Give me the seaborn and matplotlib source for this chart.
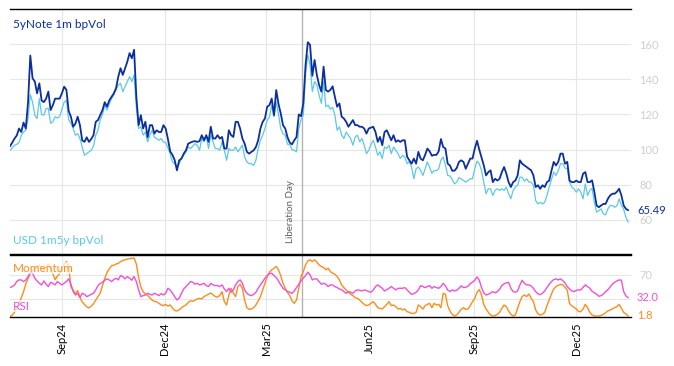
import pandas as pd
import numpy as np
import seaborn as sns
import matplotlib
matplotlib.use('Agg')
import matplotlib.pyplot as plt
import matplotlib.dates as mdates
import matplotlib.transforms as mtrans

# readings every 2 days, 2024-07-17 .. 2026-01-16
start_date = '2024-07-17'
step = '2D'

note_vol = [
    101.9, 104, 106.3, 108, 112, 110, 115.4, 112, 127, 153.5,
    140.6, 138.7, 132, 137.7, 128, 127, 129, 133, 122.5, 125.3,
    129, 129, 129, 132, 135.8, 134, 122, 118.7, 113, 114.8,
    118.7, 113.9, 105.3, 104.4, 107, 104.4, 106, 108.2, 115.8, 116.8,
    119.6, 122.5, 127, 124.4, 128, 130, 132, 134.9, 141.5, 146.3,
    142.5, 146.3, 150, 154.9, 152, 156.8, 130, 113.9, 119.6, 112,
    115.8, 107, 113.9, 113.9, 109.1, 111, 110, 110, 113.9, 112,
    106, 99, 97, 94, 88.2, 93.9, 94.9, 97.7, 99.6, 103.4,
    104, 104.6, 104.8, 104.4, 104.8, 108.2, 105.3, 108.2, 104.4, 113, 106.3, 106.3,
    108.2, 106.3, 107.2, 100.6, 100.6, 111, 108.2, 107.2, 115.8, 115.8,
    112, 106.3, 103.4, 98.7, 97.7, 98.7, 99.6, 101.5, 105.3, 112,
    115.8, 117.7, 124.4, 125.3, 129, 119.6, 133.9, 126, 120.6, 113.9,
    112, 107, 104, 103, 105.3, 107.2, 120, 119, 126.3, 148,
    161.1, 159.6, 142, 151, 142.5, 136.8, 133, 147.2, 133.9, 133,
    134, 136, 130, 124.4, 126.3, 118.7, 117.7, 115.8, 113, 114.9,
    116.8, 113.9, 113.9, 113, 113, 112, 109.1, 112, 112.5, 113,
    110, 104.4, 107.2, 102.5, 110, 111, 108.2, 105.3, 108.2, 104.4,
    105.3, 104.4, 105.3, 105.3, 96, 93.9, 92, 94.9, 92, 98.7, 94.9, 93.9,
    97, 100.6, 99, 96.5, 97, 97, 99, 106, 101.5, 100.6,
    92, 91, 88, 88, 89.5, 93, 93.9, 93, 89.1, 92,
    94.9, 94.9, 100.6, 105, 100, 95.5, 91, 85.3, 87.2, 88.2,
    81.5, 83.4, 82.4, 83.4, 87.2, 90.1, 86.3, 81.5, 78.7, 81.5,
    82.4, 85.3, 93.9, 92, 91, 90.1, 89.1, 88.2, 85.3, 78.7,
    79.7, 77.7, 79.7, 78.7, 81.5, 82.4, 88, 93, 91, 93,
    97.7, 97.7, 92, 93, 82.4, 81.5, 81.5, 82.4, 81.5, 81.5,
    86.3, 87.2, 81.5, 81.5, 82.5, 76, 68.2, 67.2, 68.2, 69.1,
    69.1, 72, 73.9, 74.9, 74.9, 76, 77.7, 73.9, 68.2, 66.3, 65.49,
]

usd_vol = [
    99.6, 101, 102.5, 103, 104, 108, 110, 111, 117.7, 131.4,
    127, 119.6, 117.7, 129, 120, 119.6, 123.4, 123.4, 115, 115.8,
    118.7, 118, 118.7, 123, 127, 128, 117, 115, 112, 108.2,
    109, 106.3, 101.5, 96.8, 97.7, 98.7, 99.6, 102, 108.2, 111,
    117, 120, 125.3, 122.5, 126, 129, 131, 134, 136.8, 137.7,
    133, 135.8, 138.7, 141.5, 138.7, 142.5, 124, 112, 113, 108.2,
    110, 104.4, 108.2, 111, 107, 106.3, 105.3, 106.3, 104.4, 104,
    101, 97.5, 93, 92, 90.1, 92, 94.9, 96.8, 98.7, 101.5,
    100.6, 102, 103.4, 102.5, 99.6, 106.3, 104.4, 108.2, 100.6, 108.2, 104.4, 100.6,
    100.6, 99.6, 104.4, 99.6, 94, 100.6, 99.6, 99.6, 101.5, 98.7,
    100.6, 102.5, 95.8, 93, 92, 92, 91, 94, 100.6, 105.3,
    108.2, 112, 116.8, 118.7, 125.3, 118.7, 127, 120, 112, 109,
    108.2, 103, 103, 100, 99.6, 98.7, 112, 117, 119.6, 143,
    153.9, 148.2, 133, 138.7, 136.8, 131, 126.3, 138.7, 124.4, 125.3,
    123, 124, 119.6, 111, 113, 108.2, 106.3, 110, 108.2, 106.3,
    102.5, 107.2, 108.2, 104.4, 106.3, 102.5, 97.7, 99.6, 103, 105.3,
    101.5, 96.8, 98.7, 94.9, 101.5, 100.6, 102.5, 97.7, 101.5, 99.6,
    97.7, 94.9, 96.8, 95.8, 92, 93, 90.1, 83.4, 89.1, 90.1, 88.2, 85.3,
    89, 93, 90, 86.5, 88, 88, 89, 94, 95.8, 91,
    85.3, 85, 83, 80.5, 81.5, 84, 83.4, 82.4, 81.5, 82.4,
    83.4, 83.4, 89.1, 93.5, 92, 88, 81.5, 74.9, 77.7, 77.7,
    73.9, 76.8, 77.7, 76.8, 77.7, 76.8, 78.7, 74.9, 72, 76.8,
    78.7, 79.7, 84.3, 84.3, 82, 83.4, 81.5, 81.5, 79.7, 71,
    69.1, 70, 69.1, 70, 73.9, 78.7, 83, 87.2, 85.3, 88,
    92, 92, 89.5, 89.1, 81.5, 78.7, 77.7, 75.8, 77.7, 75.8,
    72, 80.5, 73.9, 76.8, 78, 70, 64.4, 65.3, 66.3, 63.4,
    62.9, 66.3, 68.2, 68.2, 67.2, 68, 72, 68.2, 66, 61.5, 58.7,
]

momentum = [
    1, 3, 8, 14, 22, 32, 42, 55, 64, 72,
    76, 80, 84, 86, 82, 78, 84, 88, 82, 72,
    62, 68, 72, 80, 88, 92, 85, 50, 45, 38,
    44, 33, 25, 21, 17, 15, 18, 22, 28, 34,
    40, 52, 64, 74, 80, 85, 86, 88, 89, 92,
    94, 95, 96, 97, 97.5, 98, 88, 66, 50, 42,
    38, 36, 32, 28, 26, 25, 23, 20, 19, 21,
    18, 20, 15, 11, 10, 12, 15, 18, 20, 24,
    27, 26, 28, 30, 31, 30, 34, 36, 38, 40, 37, 34,
    33, 36, 42, 25.5, 20, 36.6, 47.7, 39.4, 33.9, 50.5,
    54.4, 47.7, 28.3, 15.5, 12.7, 13.3, 15.5, 20, 26.6, 33.9,
    45, 56, 67.2, 74.4, 78.3, 81.1, 83.9, 78.3, 68.9, 56,
    47.7, 41, 35.5, 26.6, 22.7, 28.3, 47.7, 67.2, 75.5, 86.6,
    93.3, 95, 92.2, 95, 91, 86.6, 83.9, 82.2, 78.3, 81.1,
    75.5, 72.7, 71.1, 67.2, 61.6, 53.3, 48.9, 45, 41, 37.7,
    35.5, 32.2, 31.1, 28.3, 24.4, 21.1, 18.9, 20, 22.7, 25.5,
    21.1, 15.5, 14.4, 13.3, 17.2, 21.1, 25.5, 18.9, 20, 17.2,
    13.3, 14.4, 11.6, 13.3, 8.9, 7.7, 6, 6, 7.7, 20, 17.2, 13.3,
    18.8, 21, 22.7, 15.5, 22.7, 20, 21, 15.5, 39.4, 37.7,
    18.8, 10, 4.4, 1.6, 3.3, 7.7, 12.7, 15.5, 12.7, 13.3,
    18.8, 25.5, 31.1, 41, 45.5, 36.6, 21, 13.3, 7.7, 3.3,
    1.6, 2.2, 4.4, 7.7, 14.4, 20, 17.2, 10, 4.4, 1.6,
    3.3, 14.4, 25.5, 33.9, 36.6, 33.9, 38.3, 31.1, 25.5, 11.6,
    5.5, 3.3, 4.4, 7.7, 18.8, 28.3, 38.3, 46.6, 50.5, 52.7,
    54.4, 53.3, 49.4, 44.4, 22.7, 18.3, 16.1, 13.3, 8.9, 8.9,
    13.3, 21, 15.5, 7.7, 3.3, 1.6, 1.6, 1.6, 2.7, 4.4,
    7.2, 10, 11.6, 13.3, 15.5, 17.2, 21, 14.4, 7.7, 5, 1.8,
]

rsi = [
    48.9, 50.5, 53.3, 58.9, 61.6, 61.6, 58.9, 61.6, 67.2, 74.4,
    72.7, 64.4, 60, 56, 53.3, 60, 54.4, 50.5, 57.7, 56,
    53.3, 58.9, 56, 53.3, 56, 58.9, 63.3, 54.4, 42.2, 36.6,
    39.4, 32.2, 39.4, 37.7, 33.9, 35.5, 37.7, 39.4, 45, 52.2,
    55.5, 57.7, 61.1, 63.3, 61.6, 58.9, 62.2, 64.4, 61.6, 68.9,
    67.2, 63.3, 67.2, 64.4, 61.1, 67.2, 58.9, 45, 33.9, 35.5,
    36.6, 39.4, 37.7, 36.6, 39.4, 37.7, 35.5, 38.8, 36.6, 39.4,
    47.7, 45, 39.4, 33.9, 28.3, 31.1, 39.4, 46.6, 50.5, 54.4,
    58.9, 57.7, 54.4, 56, 53.3, 54.4, 56, 52.2, 50.5, 56, 53.3, 52.2,
    52.2, 50.5, 53.3, 46.6, 42.2, 47.7, 41.1, 45, 53.3, 58.9,
    61.6, 56, 45, 39.4, 36.6, 35.5, 37.7, 41.1, 47.7, 53.3,
    58.9, 64.4, 68.9, 72.2, 72.7, 68.9, 65.5, 60, 53.3, 47.7,
    45, 42.2, 41.1, 39.4, 43.3, 48.9, 54.4, 60, 64.4, 68.9,
    74.4, 70, 61.6, 63.3, 63.3, 58.9, 54.4, 56, 54.4, 50.5,
    53.3, 53.3, 50.5, 48.9, 46.6, 45, 42.2, 39.4, 42.2, 41.1,
    39.4, 43.3, 45, 44.4, 43.3, 45, 43.9, 42.2, 41.1, 45,
    50.5, 53.3, 50.5, 47.7, 43.3, 45.5, 47.7, 50.5, 47.7, 45,
    47.7, 47.7, 47.7, 48.9, 45, 41.1, 37.7, 38.8, 41.1, 45, 52.2, 50.5,
    48.9, 50.5, 52.2, 47.7, 50.5, 48.9, 47.7, 50.5, 56, 51.6,
    45, 42.2, 45, 43.3, 44.4, 47.7, 51.6, 48.9, 49.4, 51.1,
    55.5, 57.7, 61.1, 66.6, 61.1, 48.9, 40, 36.6, 37.7, 40,
    42.2, 40, 42.2, 46.1, 52.2, 55, 56.6, 57.7, 47.7, 42.2,
    41.1, 43.3, 53.3, 61.1, 56, 53.3, 53.3, 51.6, 47.7, 42.2,
    38.3, 37.2, 39.4, 43.3, 48.9, 54.4, 58.9, 62.2, 63.3, 61.6,
    63.3, 60.5, 56.6, 50.5, 46.6, 43.3, 42.2, 44.4, 45, 45,
    49.4, 53.3, 50.5, 47.7, 42.7, 40.5, 37.7, 34.4, 35.5, 38.3,
    42.2, 45.5, 50, 54.4, 57.7, 60, 61.6, 61.1, 42.2, 35, 32.0,
]

liberation_day = '2025-04-02'

DARK = '#0b2f9f'
LIGHT = '#5cc8e6'
ORANGE = '#ff8c1a'
MAGENTA = '#f24fd9'
GRID = '#e6e6e6'
TICKGREY = '#cfcfcf'

dates = pd.date_range(start_date, periods=len(note_vol), freq=step)
df = pd.DataFrame({'date': dates, 'note': note_vol, 'usd': usd_vol,
                   'mom': momentum, 'rsi': rsi})

sns.set_style('white')
plt.rcParams['font.family'] = ['Lato', 'DejaVu Sans']

W, H = 674, 366
fig = plt.figure(figsize=(W / 100, H / 100), dpi=100)
ax1 = fig.add_axes([10 / W, 1 - 254 / H, 621 / W, 245 / H])
ax2 = fig.add_axes([10 / W, 1 - 317 / H, 621 / W, 62 / H], sharex=ax1)

# top panel: vols
sns.lineplot(data=df, x='date', y='usd', ax=ax1, color=LIGHT, linewidth=0.9)
sns.lineplot(data=df, x='date', y='note', ax=ax1, color=DARK, linewidth=1.3)

# bottom panel: momentum / rsi
sns.lineplot(data=df, x='date', y='mom', ax=ax2, color=ORANGE, linewidth=1.0)
sns.lineplot(data=df, x='date', y='rsi', ax=ax2, color=MAGENTA, linewidth=1.0)

ax1.set_xlim(pd.Timestamp('2024-07-17'), pd.Timestamp('2026-01-18 12:00'))
ax1.set_ylim(40.6, 180)
ax1.set_yticks([60, 80, 100, 120, 140, 160])
ax2.set_ylim(0, 103)
ax2.set_yticks([30, 70])
ax2.set_yticklabels(['', '70'])

for ax in (ax1, ax2):
    ax.set_xlabel('')
    ax.set_ylabel('')
    ax.yaxis.tick_right()
    ax.tick_params(axis='y', length=0, labelcolor=TICKGREY, labelsize=8, pad=6)
    ax.tick_params(axis='x', direction='in', length=5, color='black', width=1)
    ax.grid(True, color=GRID, linewidth=0.8)
    ax.set_axisbelow(True)
    for s in ('left', 'right'):
        ax.spines[s].set_visible(False)
    for s in ('top', 'bottom'):
        ax.spines[s].set_color('black')
        ax.spines[s].set_linewidth(1.0)
    ax.axvline(pd.Timestamp(liberation_day), color='#b4b4b4', linewidth=1.0, zorder=1)

ax2.xaxis.set_major_locator(mdates.MonthLocator(bymonth=[3, 6, 9, 12]))
ax2.xaxis.set_major_formatter(mdates.DateFormatter('%b%y'))
ax1.tick_params(axis='x', labelbottom=False)
ax2.tick_params(axis='x', labelsize=8, labelcolor='black', pad=4)
for lbl in ax2.get_xticklabels():
    lbl.set_rotation(90)

# event label
ax1.text(pd.Timestamp(liberation_day) - pd.Timedelta(days=6), 0.045, 'Liberation Day',
         transform=mtrans.blended_transform_factory(ax1.transData, ax1.transAxes),
         rotation=90, ha='right', va='bottom', fontsize=7, color='#606060')

# last values on the right
t1 = mtrans.blended_transform_factory(ax1.transAxes, ax1.transData)
ax1.text(1.0097, note_vol[-1], f'{note_vol[-1]:.2f}', transform=t1,
         color=DARK, fontsize=8, va='center', ha='left')
t2 = mtrans.blended_transform_factory(ax2.transAxes, ax2.transData)
ax2.text(1.0097, rsi[-1], f'{rsi[-1]:.1f}', transform=t2,
         color=MAGENTA, fontsize=8, va='center', ha='left')
ax2.text(1.0097, momentum[-1], f'{momentum[-1]:.1f}', transform=t2,
         color=ORANGE, fontsize=8, va='center', ha='left')

# series names
fig.text(13 / W, 1 - 25 / H, '5yNote 1m bpVol', color=DARK, fontsize=8.5, va='center')
fig.text(13 / W, 1 - 240 / H, 'USD 1m5y bpVol', color=LIGHT, fontsize=8.5, va='center')
fig.text(13 / W, 1 - 268 / H, 'Momentum', color=ORANGE, fontsize=8.5, va='center',
         bbox=dict(facecolor='white', alpha=0.7, edgecolor='none', pad=0.5))
fig.text(13 / W, 1 - 306 / H, 'RSI', color=MAGENTA, fontsize=8.5, va='center',
         bbox=dict(facecolor='white', alpha=0.7, edgecolor='none', pad=0.5))

fig.savefig('out.png', dpi=100)
